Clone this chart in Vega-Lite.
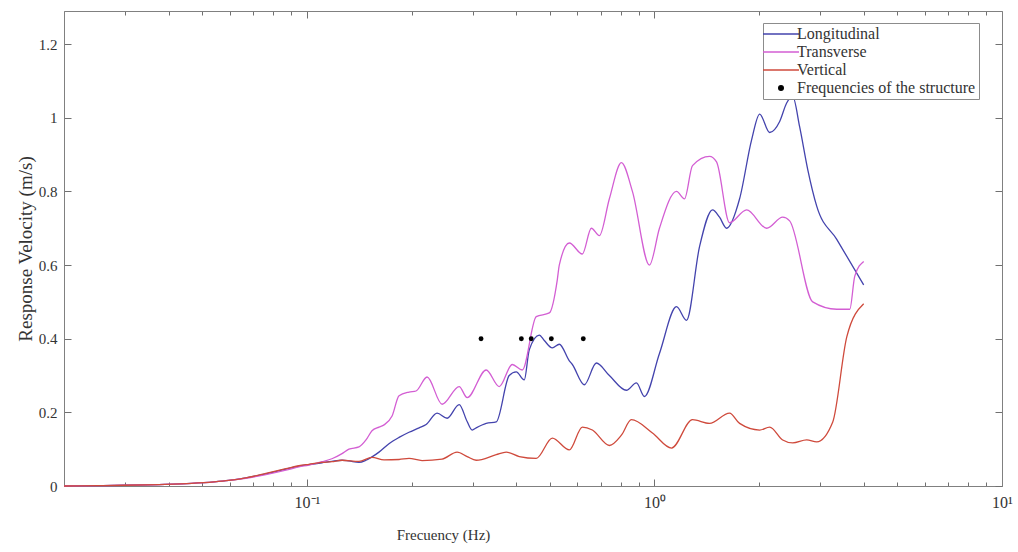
{
  "$schema": "https://vega.github.io/schema/vega-lite/v6.json",
  "width": 938,
  "height": 475,
  "autosize": {"type": "none"},
  "padding": {"left": 64, "top": 11, "right": 16, "bottom": 66},
  "background": "white",
  "config": {
    "view": {"stroke": null},
    "axis": {
      "grid": false,
      "domainColor": "#808080",
      "tickColor": "#707070",
      "tickWidth": 1,
      "labelColor": "#333333",
      "labelFont": "Liberation Serif",
      "labelFontSize": 15,
      "titleFont": "Liberation Serif",
      "titleFontSize": 15,
      "titleFontWeight": "normal",
      "titleColor": "#333333"
    }
  },
  "data": {
    "values": [
      {"series": "Longitudinal", "freq": 0.02, "vel": 0.0},
      {"series": "Longitudinal", "freq": 0.025, "vel": 0.001},
      {"series": "Longitudinal", "freq": 0.03, "vel": 0.002},
      {"series": "Longitudinal", "freq": 0.0375, "vel": 0.004},
      {"series": "Longitudinal", "freq": 0.0466, "vel": 0.007},
      {"series": "Longitudinal", "freq": 0.054, "vel": 0.011},
      {"series": "Longitudinal", "freq": 0.0596, "vel": 0.015},
      {"series": "Longitudinal", "freq": 0.0667, "vel": 0.022},
      {"series": "Longitudinal", "freq": 0.0762, "vel": 0.033},
      {"series": "Longitudinal", "freq": 0.087, "vel": 0.046},
      {"series": "Longitudinal", "freq": 0.0948, "vel": 0.054},
      {"series": "Longitudinal", "freq": 0.1013, "vel": 0.058},
      {"series": "Longitudinal", "freq": 0.1105, "vel": 0.063},
      {"series": "Longitudinal", "freq": 0.118, "vel": 0.067},
      {"series": "Longitudinal", "freq": 0.1262, "vel": 0.07},
      {"series": "Longitudinal", "freq": 0.1321, "vel": 0.068},
      {"series": "Longitudinal", "freq": 0.1412, "vel": 0.064},
      {"series": "Longitudinal", "freq": 0.1479, "vel": 0.07},
      {"series": "Longitudinal", "freq": 0.1539, "vel": 0.079},
      {"series": "Longitudinal", "freq": 0.1612, "vel": 0.092},
      {"series": "Longitudinal", "freq": 0.1722, "vel": 0.115},
      {"series": "Longitudinal", "freq": 0.1841, "vel": 0.132},
      {"series": "Longitudinal", "freq": 0.1967, "vel": 0.146},
      {"series": "Longitudinal", "freq": 0.2103, "vel": 0.158},
      {"series": "Longitudinal", "freq": 0.2203, "vel": 0.167},
      {"series": "Longitudinal", "freq": 0.2369, "vel": 0.198},
      {"series": "Longitudinal", "freq": 0.2532, "vel": 0.184},
      {"series": "Longitudinal", "freq": 0.2742, "vel": 0.221},
      {"series": "Longitudinal", "freq": 0.2891, "vel": 0.175},
      {"series": "Longitudinal", "freq": 0.2988, "vel": 0.152},
      {"series": "Longitudinal", "freq": 0.3069, "vel": 0.158},
      {"series": "Longitudinal", "freq": 0.328, "vel": 0.17},
      {"series": "Longitudinal", "freq": 0.3505, "vel": 0.174},
      {"series": "Longitudinal", "freq": 0.382, "vel": 0.3},
      {"series": "Longitudinal", "freq": 0.4002, "vel": 0.31},
      {"series": "Longitudinal", "freq": 0.4221, "vel": 0.288},
      {"series": "Longitudinal", "freq": 0.4363, "vel": 0.37},
      {"series": "Longitudinal", "freq": 0.4662, "vel": 0.41},
      {"series": "Longitudinal", "freq": 0.482, "vel": 0.395},
      {"series": "Longitudinal", "freq": 0.5083, "vel": 0.375},
      {"series": "Longitudinal", "freq": 0.5323, "vel": 0.385},
      {"series": "Longitudinal", "freq": 0.5689, "vel": 0.34},
      {"series": "Longitudinal", "freq": 0.5804, "vel": 0.33},
      {"series": "Longitudinal", "freq": 0.6284, "vel": 0.275},
      {"series": "Longitudinal", "freq": 0.6805, "vel": 0.334},
      {"series": "Longitudinal", "freq": 0.7418, "vel": 0.3},
      {"series": "Longitudinal", "freq": 0.8303, "vel": 0.26},
      {"series": "Longitudinal", "freq": 0.8874, "vel": 0.28},
      {"series": "Longitudinal", "freq": 0.9358, "vel": 0.243},
      {"series": "Longitudinal", "freq": 1.0337, "vel": 0.36},
      {"series": "Longitudinal", "freq": 1.1572, "vel": 0.487},
      {"series": "Longitudinal", "freq": 1.2364, "vel": 0.45},
      {"series": "Longitudinal", "freq": 1.348, "vel": 0.65},
      {"series": "Longitudinal", "freq": 1.4693, "vel": 0.75},
      {"series": "Longitudinal", "freq": 1.5391, "vel": 0.73},
      {"series": "Longitudinal", "freq": 1.6124, "vel": 0.7},
      {"series": "Longitudinal", "freq": 1.7579, "vel": 0.78},
      {"series": "Longitudinal", "freq": 1.9034, "vel": 0.94},
      {"series": "Longitudinal", "freq": 2.0075, "vel": 1.01},
      {"series": "Longitudinal", "freq": 2.1452, "vel": 0.96},
      {"series": "Longitudinal", "freq": 2.2925, "vel": 0.99},
      {"series": "Longitudinal", "freq": 2.401, "vel": 1.04},
      {"series": "Longitudinal", "freq": 2.4987, "vel": 1.058},
      {"series": "Longitudinal", "freq": 2.6172, "vel": 0.975},
      {"series": "Longitudinal", "freq": 2.76, "vel": 0.86},
      {"series": "Longitudinal", "freq": 2.9299, "vel": 0.76},
      {"series": "Longitudinal", "freq": 3.3459, "vel": 0.67},
      {"series": "Longitudinal", "freq": 4.0, "vel": 0.546},

      {"series": "Transverse", "freq": 0.02, "vel": 0.0},
      {"series": "Transverse", "freq": 0.025, "vel": 0.001},
      {"series": "Transverse", "freq": 0.03, "vel": 0.002},
      {"series": "Transverse", "freq": 0.0375, "vel": 0.004},
      {"series": "Transverse", "freq": 0.0466, "vel": 0.007},
      {"series": "Transverse", "freq": 0.054, "vel": 0.011},
      {"series": "Transverse", "freq": 0.0596, "vel": 0.015},
      {"series": "Transverse", "freq": 0.0667, "vel": 0.021},
      {"series": "Transverse", "freq": 0.0762, "vel": 0.031},
      {"series": "Transverse", "freq": 0.087, "vel": 0.043},
      {"series": "Transverse", "freq": 0.0948, "vel": 0.052},
      {"series": "Transverse", "freq": 0.1013, "vel": 0.057},
      {"series": "Transverse", "freq": 0.1105, "vel": 0.066},
      {"series": "Transverse", "freq": 0.118, "vel": 0.074},
      {"series": "Transverse", "freq": 0.1262, "vel": 0.088},
      {"series": "Transverse", "freq": 0.1321, "vel": 0.1},
      {"series": "Transverse", "freq": 0.1412, "vel": 0.106},
      {"series": "Transverse", "freq": 0.1479, "vel": 0.125},
      {"series": "Transverse", "freq": 0.1539, "vel": 0.15},
      {"series": "Transverse", "freq": 0.1612, "vel": 0.16},
      {"series": "Transverse", "freq": 0.1667, "vel": 0.166},
      {"series": "Transverse", "freq": 0.1758, "vel": 0.19},
      {"series": "Transverse", "freq": 0.1841, "vel": 0.245},
      {"series": "Transverse", "freq": 0.1967, "vel": 0.255},
      {"series": "Transverse", "freq": 0.2061, "vel": 0.258},
      {"series": "Transverse", "freq": 0.2217, "vel": 0.296},
      {"series": "Transverse", "freq": 0.2449, "vel": 0.222},
      {"series": "Transverse", "freq": 0.2742, "vel": 0.27},
      {"series": "Transverse", "freq": 0.2891, "vel": 0.24},
      {"series": "Transverse", "freq": 0.328, "vel": 0.315},
      {"series": "Transverse", "freq": 0.3575, "vel": 0.27},
      {"series": "Transverse", "freq": 0.3898, "vel": 0.33},
      {"series": "Transverse", "freq": 0.4165, "vel": 0.315},
      {"series": "Transverse", "freq": 0.4569, "vel": 0.46},
      {"series": "Transverse", "freq": 0.4982, "vel": 0.47},
      {"series": "Transverse", "freq": 0.5253, "vel": 0.56},
      {"series": "Transverse", "freq": 0.5323, "vel": 0.6},
      {"series": "Transverse", "freq": 0.5689, "vel": 0.66},
      {"series": "Transverse", "freq": 0.6201, "vel": 0.63},
      {"series": "Transverse", "freq": 0.6583, "vel": 0.7},
      {"series": "Transverse", "freq": 0.6942, "vel": 0.68},
      {"series": "Transverse", "freq": 0.7418, "vel": 0.78},
      {"series": "Transverse", "freq": 0.8032, "vel": 0.878},
      {"series": "Transverse", "freq": 0.8641, "vel": 0.8},
      {"series": "Transverse", "freq": 0.9674, "vel": 0.6},
      {"series": "Transverse", "freq": 1.0337, "vel": 0.7},
      {"series": "Transverse", "freq": 1.1572, "vel": 0.8},
      {"series": "Transverse", "freq": 1.2203, "vel": 0.78},
      {"series": "Transverse", "freq": 1.2866, "vel": 0.87},
      {"series": "Transverse", "freq": 1.4403, "vel": 0.895},
      {"series": "Transverse", "freq": 1.5088, "vel": 0.88},
      {"series": "Transverse", "freq": 1.6448, "vel": 0.715},
      {"series": "Transverse", "freq": 1.8414, "vel": 0.75},
      {"series": "Transverse", "freq": 2.1031, "vel": 0.7},
      {"series": "Transverse", "freq": 2.3388, "vel": 0.73},
      {"series": "Transverse", "freq": 2.4491, "vel": 0.72},
      {"series": "Transverse", "freq": 2.853, "vel": 0.5},
      {"series": "Transverse", "freq": 3.3459, "vel": 0.48},
      {"series": "Transverse", "freq": 3.6475, "vel": 0.48},
      {"series": "Transverse", "freq": 3.7705, "vel": 0.57},
      {"series": "Transverse", "freq": 4.0, "vel": 0.61},

      {"series": "Vertical", "freq": 0.02, "vel": 0.0},
      {"series": "Vertical", "freq": 0.025, "vel": 0.001},
      {"series": "Vertical", "freq": 0.03, "vel": 0.002},
      {"series": "Vertical", "freq": 0.0375, "vel": 0.004},
      {"series": "Vertical", "freq": 0.0466, "vel": 0.007},
      {"series": "Vertical", "freq": 0.054, "vel": 0.011},
      {"series": "Vertical", "freq": 0.0596, "vel": 0.015},
      {"series": "Vertical", "freq": 0.0667, "vel": 0.022},
      {"series": "Vertical", "freq": 0.0762, "vel": 0.034},
      {"series": "Vertical", "freq": 0.087, "vel": 0.047},
      {"series": "Vertical", "freq": 0.0948, "vel": 0.055},
      {"series": "Vertical", "freq": 0.1013, "vel": 0.059},
      {"series": "Vertical", "freq": 0.1105, "vel": 0.064},
      {"series": "Vertical", "freq": 0.118, "vel": 0.066},
      {"series": "Vertical", "freq": 0.1262, "vel": 0.07},
      {"series": "Vertical", "freq": 0.1412, "vel": 0.067},
      {"series": "Vertical", "freq": 0.1539, "vel": 0.078},
      {"series": "Vertical", "freq": 0.1667, "vel": 0.071},
      {"series": "Vertical", "freq": 0.1841, "vel": 0.072},
      {"series": "Vertical", "freq": 0.1967, "vel": 0.075},
      {"series": "Vertical", "freq": 0.2145, "vel": 0.069},
      {"series": "Vertical", "freq": 0.2449, "vel": 0.073},
      {"series": "Vertical", "freq": 0.2705, "vel": 0.092},
      {"series": "Vertical", "freq": 0.2891, "vel": 0.08},
      {"series": "Vertical", "freq": 0.3069, "vel": 0.07},
      {"series": "Vertical", "freq": 0.3505, "vel": 0.085},
      {"series": "Vertical", "freq": 0.3745, "vel": 0.092},
      {"series": "Vertical", "freq": 0.4083, "vel": 0.08},
      {"series": "Vertical", "freq": 0.4569, "vel": 0.075},
      {"series": "Vertical", "freq": 0.5083, "vel": 0.13},
      {"series": "Vertical", "freq": 0.5689, "vel": 0.098},
      {"series": "Vertical", "freq": 0.6201, "vel": 0.16},
      {"series": "Vertical", "freq": 0.6627, "vel": 0.152},
      {"series": "Vertical", "freq": 0.7418, "vel": 0.11},
      {"series": "Vertical", "freq": 0.8032, "vel": 0.138},
      {"series": "Vertical", "freq": 0.8584, "vel": 0.18},
      {"series": "Vertical", "freq": 0.9868, "vel": 0.144},
      {"series": "Vertical", "freq": 1.1195, "vel": 0.103},
      {"series": "Vertical", "freq": 1.2866, "vel": 0.18},
      {"series": "Vertical", "freq": 1.4403, "vel": 0.17},
      {"series": "Vertical", "freq": 1.6448, "vel": 0.198},
      {"series": "Vertical", "freq": 1.7579, "vel": 0.17},
      {"series": "Vertical", "freq": 2.0075, "vel": 0.152},
      {"series": "Vertical", "freq": 2.1452, "vel": 0.16},
      {"series": "Vertical", "freq": 2.3388, "vel": 0.125},
      {"series": "Vertical", "freq": 2.4987, "vel": 0.117},
      {"series": "Vertical", "freq": 2.7416, "vel": 0.125},
      {"series": "Vertical", "freq": 2.9299, "vel": 0.12},
      {"series": "Vertical", "freq": 3.2584, "vel": 0.174},
      {"series": "Vertical", "freq": 3.5758, "vel": 0.405},
      {"series": "Vertical", "freq": 4.0, "vel": 0.495},

      {"series": "Frequencies of the structure", "freq": 0.317, "vel": 0.4},
      {"series": "Frequencies of the structure", "freq": 0.414, "vel": 0.4},
      {"series": "Frequencies of the structure", "freq": 0.442, "vel": 0.4},
      {"series": "Frequencies of the structure", "freq": 0.505, "vel": 0.4},
      {"series": "Frequencies of the structure", "freq": 0.624, "vel": 0.4}
    ]
  },
  "resolve": {"axis": {"x": "independent", "y": "independent"}},
  "layer": [
    {
      "transform": [{"filter": "datum.series !== 'Frequencies of the structure'"}],
      "mark": {"type": "line", "strokeWidth": 1.3, "interpolate": "monotone"},
      "encoding": {
        "x": {
          "field": "freq", "type": "quantitative",
          "scale": {"type": "log", "domain": [0.02, 10], "nice": false},
          "axis": {
            "orient": "bottom",
            "title": "Frecuency (Hz)",
            "titleX": 379,
            "values": [0.02,0.03,0.04,0.05,0.06,0.07,0.08,0.09,0.1,0.2,0.3,0.4,0.5,0.6,0.7,0.8,0.9,1,2,3,4,5,6,7,8,9,10],
            "labelExpr": "datum.value == 0.1 ? '10⁻¹' : datum.value == 1 ? '10⁰' : datum.value == 10 ? '10¹' : ''",
            "tickSize": {"condition": {"test": "datum.value == 0.1 || datum.value == 1 || datum.value == 10", "value": -7}, "value": -4},
            "labelPadding": 15,
            "labelFontSize": 16,
            "labelFlush": false,
            "labelOverlap": false,
            "titlePadding": 14
          }
        },
        "y": {
          "field": "vel", "type": "quantitative",
          "scale": {"domain": [0, 1.29], "nice": false, "zero": true},
          "axis": {
            "orient": "left",
            "title": "Response Velocity (m/s)",
            "titleFontSize": 19,
            "values": [0, 0.2, 0.4, 0.6, 0.8, 1, 1.2],
            "labelExpr": "datum.value + ''",
            "tickSize": -7,
            "labelPadding": 14,
            "titlePadding": 3
          }
        },
        "color": {
          "field": "series", "type": "nominal",
          "scale": {
            "domain": ["Longitudinal", "Transverse", "Vertical", "Frequencies of the structure"],
            "range": ["#4343ad", "#d35ed3", "#cf4a3c", "#000000"]
          },
          "legend": {
            "title": null,
            "orient": "none",
            "legendX": 699,
            "legendY": 12,
            "symbolType": "M-3,0H3",
            "symbolSize": 144,
            "symbolStrokeWidth": 1.3,
            "symbolOffset": 7,
            "labelFont": "Liberation Serif",
            "labelFontSize": 16,
            "labelColor": "#333333",
            "labelOffset": 8,
            "labelLimit": 400,
            "padding": 3,
            "rowPadding": 2,
            "strokeColor": "#8c8c8c",
            "fillColor": "white",
            "encode": {
              "symbols": {
                "update": {
                  "shape": {"signal": "datum.value === 'Frequencies of the structure' ? 'circle' : 'M-3,0H3'"},
                  "size": {"signal": "datum.value === 'Frequencies of the structure' ? 22 : 144"},
                  "fill": {"signal": "datum.value === 'Frequencies of the structure' ? 'black' : 'transparent'"}
                }
              }
            }
          }
        }
      }
    },
    {
      "transform": [{"filter": "datum.series === 'Frequencies of the structure'"}],
      "mark": {"type": "point", "filled": true, "color": "black", "size": 24, "opacity": 1},
      "encoding": {
        "x": {
          "field": "freq", "type": "quantitative",
          "scale": {"type": "log", "domain": [0.02, 10], "nice": false},
          "axis": {
            "orient": "top",
            "title": null,
            "labels": false,
            "values": [0.02,0.03,0.04,0.05,0.06,0.07,0.08,0.09,0.1,0.2,0.3,0.4,0.5,0.6,0.7,0.8,0.9,1,2,3,4,5,6,7,8,9,10],
            "tickSize": {"condition": {"test": "datum.value == 0.1 || datum.value == 1 || datum.value == 10", "value": -7}, "value": -4}
          }
        },
        "y": {
          "field": "vel", "type": "quantitative",
          "scale": {"domain": [0, 1.29], "nice": false, "zero": true},
          "axis": {
            "orient": "right",
            "title": null,
            "labels": false,
            "values": [0, 0.2, 0.4, 0.6, 0.8, 1, 1.2],
            "tickSize": -7
          }
        }
      }
    }
  ]
}
